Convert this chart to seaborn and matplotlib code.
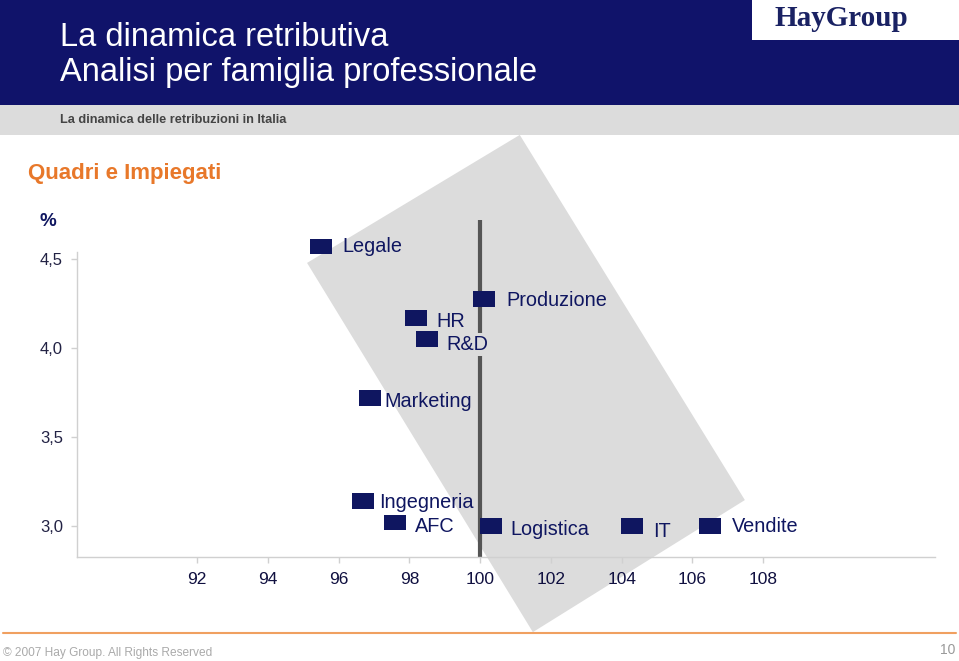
import matplotlib
matplotlib.use("Agg")
import matplotlib.pyplot as plt
import seaborn as sns
import pandas as pd
from matplotlib.patches import Polygon, Rectangle
from matplotlib.lines import Line2D

sns.set_theme(style="white")
plt.rcParams['font.family'] = ['Liberation Sans', 'DejaVu Sans']

# ---- data ----
families = ["Legale", "Produzione", "HR", "R&D", "Marketing",
            "Ingegneria", "AFC", "Logistica", "IT", "Vendite"]
pay_index = [95.5, 100.1, 98.2, 98.5, 96.9, 96.7, 97.6, 100.3, 104.3, 106.5]
increase_pct = [4.57, 4.275, 4.17, 4.05, 3.72, 3.14, 3.02, 3.0, 3.0, 3.0]
x_ticks = [92, 94, 96, 98, 100, 102, 104, 106, 108]
y_ticks = [3.0, 3.5, 4.0, 4.5]
y_ticklabels = ["3,0", "3,5", "4,0", "4,5"]
# highlight band corners (data coords)
band_x = [101.12, 95.11, 101.49, 107.48]
band_y = [5.197, 4.478, 2.404, 3.146]
ref_x = 100

df = pd.DataFrame({"famiglia": families, "x": pay_index, "y": increase_pct})

NAVY = "#0f1660"
HEADER = "#10136a"

fig = plt.figure(figsize=(9.59, 6.61), dpi=100)
W, H = 959, 661

def fx(px):
    return px / W

def fy(py):
    return 1 - py / H

# header
fig.patches.append(Rectangle((0, fy(105)), 1, 105 / H, transform=fig.transFigure,
                             facecolor=HEADER, edgecolor="none", zorder=0))
fig.patches.append(Rectangle((0, fy(135)), 1, 30 / H, transform=fig.transFigure,
                             facecolor="#dcdcdc", edgecolor="none", zorder=0))
fig.patches.append(Rectangle((fx(752), fy(40)), 1, 40 / H, transform=fig.transFigure,
                             facecolor="white", edgecolor="none", zorder=1))
fig.text(fx(60), fy(37), "La dinamica retributiva", color="white", fontsize=23.5,
         va="center", ha="left")
fig.text(fx(60), fy(73), "Analisi per famiglia professionale", color="white", fontsize=23.5,
         va="center", ha="left")
fig.text(fx(60), fy(120), "La dinamica delle retribuzioni in Italia", color="#444444",
         fontsize=9.2, va="center", ha="left", fontweight="bold")
fig.text(fx(841), fy(18), "HayGroup", color="#1a2263", fontsize=21, fontweight="bold",
         family=["Liberation Serif", "DejaVu Serif"], va="center", ha="center")
fig.text(fx(28), fy(173), "Quadri e Impiegati", color="#e8782a", fontsize=16,
         fontweight="bold", va="center", ha="left")
fig.text(fx(40), fy(222), "%", color=NAVY, fontsize=13.5, fontweight="bold",
         va="center", ha="left")

# footer
fig.lines.append(Line2D([fx(3), fx(956)], [fy(633), fy(633)], transform=fig.transFigure,
                        color="#f0a060", lw=1.5, zorder=3))
fig.text(fx(3), fy(653), "© 2007 Hay Group. All Rights Reserved", color="#aaaaaa",
         fontsize=8.6, va="center", ha="left")
fig.text(fx(955), fy(650), "10", color="#999999", fontsize=10, va="center", ha="right")

# axes
ax = fig.add_axes([0.0803, 0.1573, 0.8946, 0.4832])
ax.set_xlim(88.61, 112.85)
ax.set_ylim(2.826, 4.62)
ax.patch.set_alpha(0)

band = Polygon(list(zip(band_x, band_y)), closed=True, facecolor="#dcdcdc",
               edgecolor="none", clip_on=False, zorder=0)
ax.add_patch(band)

ax.plot([ref_x, ref_x], [2.826, 4.72], color="#555555", lw=3, zorder=1,
        clip_on=False, solid_capstyle="butt")

rect_marker = [(-1.4, -1), (1.4, -1), (1.4, 1), (-1.4, 1), (-1.4, -1)]
sns.scatterplot(data=df, x="x", y="y", marker=rect_marker, s=250, color=NAVY,
                edgecolor="none", linewidth=0, ax=ax, zorder=3, clip_on=False)

label_offsets = {
    "Legale": (0.6, 0.0), "Produzione": (0.65, -0.01), "HR": (0.55, -0.02),
    "R&D": (0.55, -0.03), "Marketing": (0.4, -0.02), "Ingegneria": (0.45, -0.005),
    "AFC": (0.55, -0.02), "Logistica": (0.55, -0.02), "IT": (0.6, -0.03),
    "Vendite": (0.6, -0.005),
}
for f, xv, yv in zip(families, pay_index, increase_pct):
    dx, dy = label_offsets[f]
    kw = {}
    if f == "R&D":
        kw["bbox"] = dict(facecolor="#dcdcdc", edgecolor="none", pad=1.5)
    ax.text(xv + dx, yv + dy, f, color=NAVY, fontsize=14.3, va="center", ha="left",
            zorder=4, **kw)

sns.despine(ax=ax, top=True, right=True)
for s in ["left", "bottom"]:
    ax.spines[s].set_color("#d0d0d0")
    ax.spines[s].set_linewidth(1)
ax.spines["left"].set_bounds(2.826, 4.54)

ax.set_xticks(x_ticks)
ax.set_xticklabels([str(t) for t in x_ticks])
ax.set_yticks(y_ticks)
ax.set_yticklabels(y_ticklabels)
ax.tick_params(axis="x", direction="out", length=4, width=1, color="#d0d0d0",
               labelsize=12.5, labelcolor="#101040", pad=7, bottom=True)
ax.tick_params(axis="y", direction="out", length=4, width=1, color="#d0d0d0",
               labelsize=12, labelcolor="#222244", pad=6, left=True)
ax.set_xlabel("")
ax.set_ylabel("")
ax.grid(False)

fig.savefig("out.png", dpi=100)
